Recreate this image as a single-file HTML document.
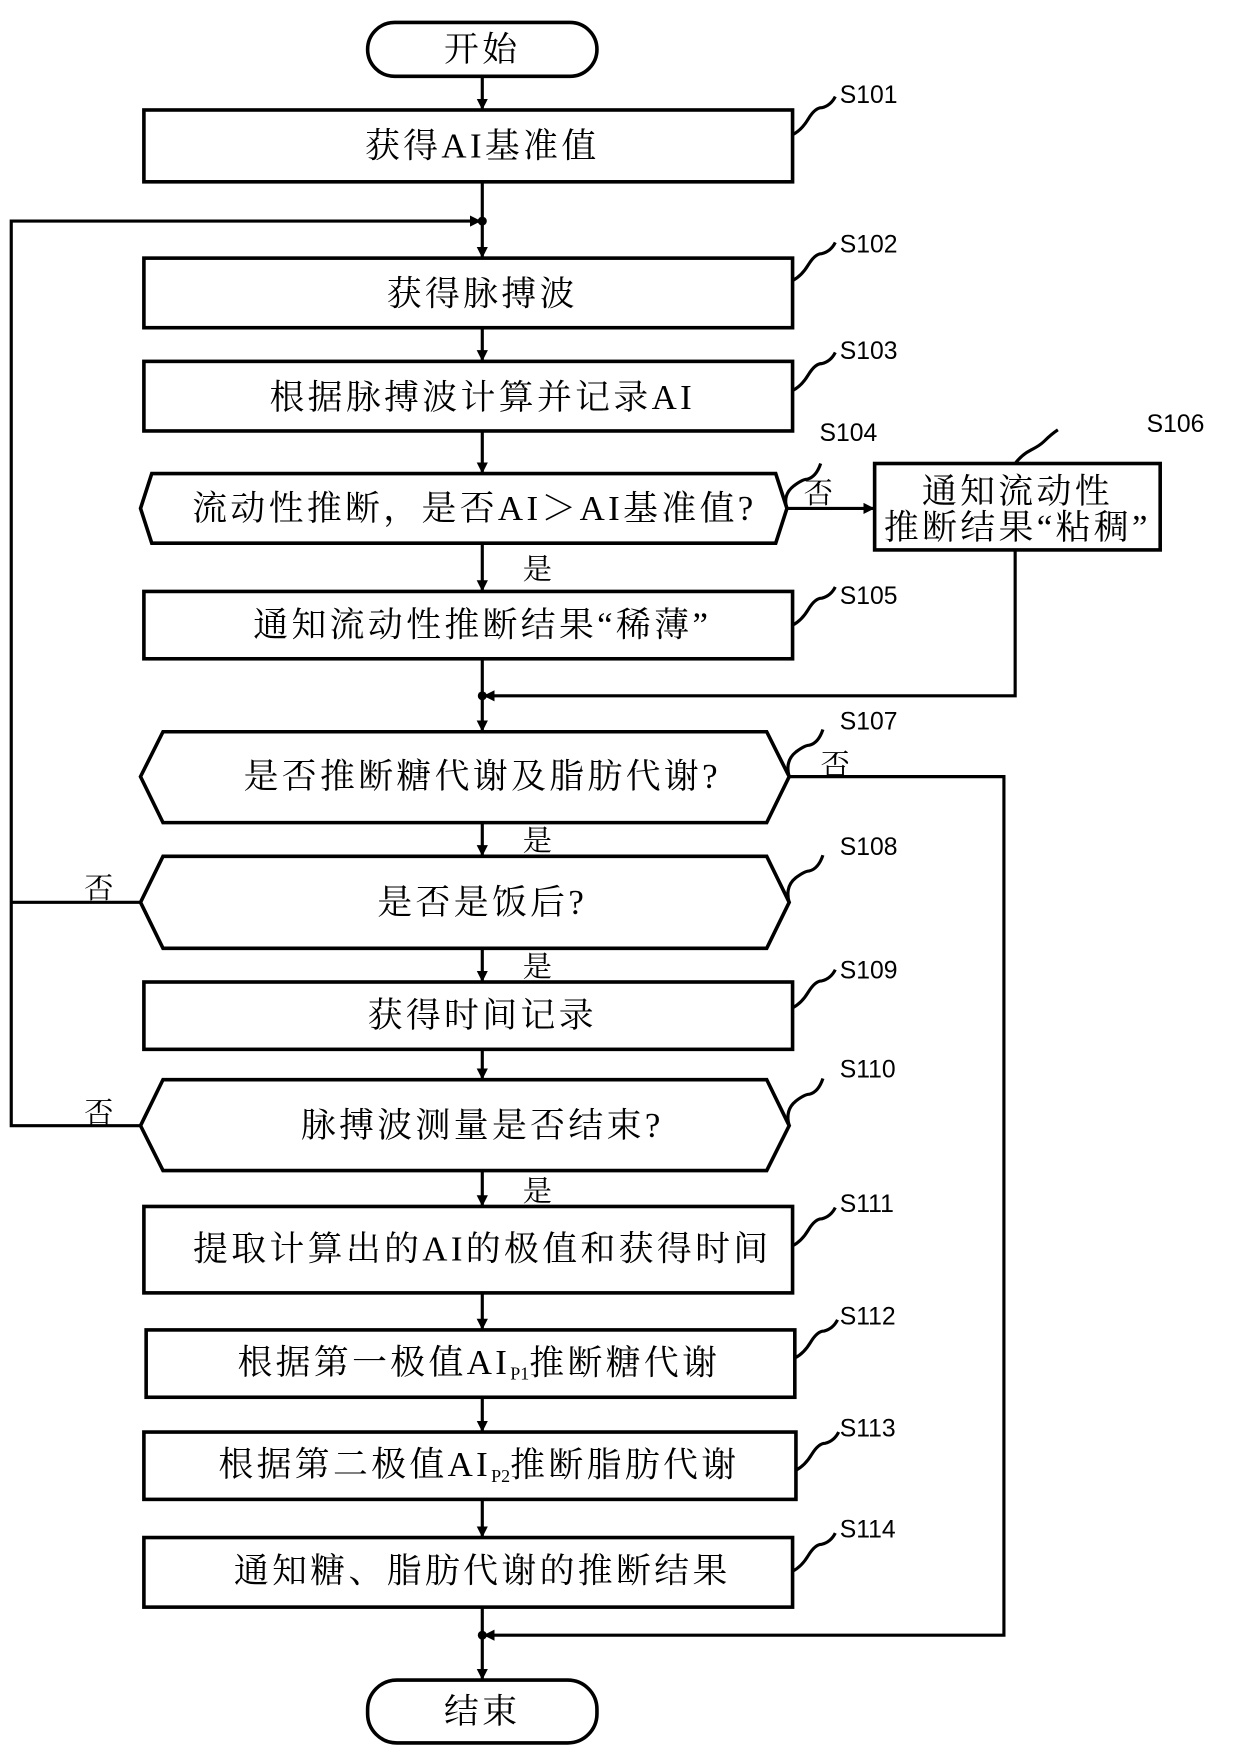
<!DOCTYPE html>
<html><head><meta charset="utf-8"><style>
html,body{margin:0;padding:0;background:#fff;}
svg{display:block;}
.t{font-family:"Liberation Serif","Noto Serif CJK SC",serif;font-size:31px;letter-spacing:3px;fill:#000;text-anchor:middle;dominant-baseline:central;}
.l{font-family:"Liberation Sans",sans-serif;font-size:22px;fill:#000;}
.y{font-family:"Liberation Serif","Noto Serif CJK SC",serif;font-size:26px;fill:#000;}
</style></head><body>
<svg width="1240" height="1762" viewBox="0 0 1103 1570" preserveAspectRatio="none" xmlns="http://www.w3.org/2000/svg">
<defs><marker id="a" markerWidth="10" markerHeight="10" refX="9" refY="5" orient="auto" markerUnits="userSpaceOnUse"><path d="M0,0 L10,5 L0,10 Z" fill="#000"/></marker></defs>
<g stroke="#000" stroke-width="3.2" fill="none">
<rect x="327" y="20" width="204" height="48" rx="24"/>
<rect x="128" y="98" width="577" height="64"/>
<rect x="128" y="230" width="577" height="62"/>
<rect x="128" y="322" width="577" height="62"/>
<polygon points="135,422 690,422 700,453 690,484 135,484 125,453"/>
<rect x="778" y="413" width="254" height="77"/>
<rect x="128" y="527" width="577" height="60"/>
<polygon points="145,652 682,652 702,692 682,733 145,733 125,692"/>
<polygon points="145,763 682,763 702,804 682,845 145,845 125,804"/>
<rect x="128" y="875" width="577" height="60"/>
<polygon points="145,962 682,962 702,1003 682,1043 145,1043 125,1003"/>
<rect x="128" y="1075" width="577" height="77"/>
<rect x="130" y="1185" width="577" height="60"/>
<rect x="128" y="1276" width="580" height="60"/>
<rect x="128" y="1370" width="577" height="62"/>
<rect x="327" y="1497" width="204" height="56" rx="26"/>
</g>
<g stroke="#000" stroke-width="2.8" fill="none">
<line x1="429" y1="68" x2="429" y2="97" marker-end="url(#a)"/>
<line x1="429" y1="162" x2="429" y2="229" marker-end="url(#a)"/>
<line x1="429" y1="292" x2="429" y2="321" marker-end="url(#a)"/>
<line x1="429" y1="384" x2="429" y2="421" marker-end="url(#a)"/>
<line x1="429" y1="484" x2="429" y2="526" marker-end="url(#a)"/>
<line x1="429" y1="587" x2="429" y2="651" marker-end="url(#a)"/>
<line x1="429" y1="733" x2="429" y2="762" marker-end="url(#a)"/>
<line x1="429" y1="845" x2="429" y2="874" marker-end="url(#a)"/>
<line x1="429" y1="935" x2="429" y2="961" marker-end="url(#a)"/>
<line x1="429" y1="1043" x2="429" y2="1074" marker-end="url(#a)"/>
<line x1="429" y1="1152" x2="429" y2="1184" marker-end="url(#a)"/>
<line x1="429" y1="1245" x2="429" y2="1275" marker-end="url(#a)"/>
<line x1="429" y1="1336" x2="429" y2="1369" marker-end="url(#a)"/>
<line x1="429" y1="1432" x2="429" y2="1496" marker-end="url(#a)"/>
<line x1="700" y1="453" x2="777" y2="453" marker-end="url(#a)"/>
<polyline points="903,490 903,620 431,620" marker-end="url(#a)"/>
<polyline points="702,692 893,692 893,1457 431,1457" marker-end="url(#a)"/>
<polyline points="125,804 10,804"/>
<polyline points="125,1003 10,1003 10,197 427,197" marker-end="url(#a)"/>
<path d="M705,120 q8,-4 14,-14 q6,-10 12,-10 q8,-2 12,-10"/>
<path d="M705,250 q8,-4 14,-14 q6,-10 12,-10 q8,-2 12,-10"/>
<path d="M705,348 q8,-4 14,-14 q6,-10 12,-10 q8,-2 12,-10"/>
<path d="M700,453 q-4,-12 6,-20 q8,-6 12,-6 q8,-2 12,-14"/>
<path d="M903,413 q6,-8 14,-12 q8,-4 12,-8 q6,-6 12,-10"/>
<path d="M705,557 q8,-4 14,-14 q6,-10 12,-10 q8,-2 12,-10"/>
<path d="M702,692 q-4,-14 6,-22 q8,-6 12,-6 q8,-2 12,-14"/>
<path d="M702,804 q-4,-14 6,-22 q8,-6 12,-6 q8,-2 12,-14"/>
<path d="M705,898 q8,-4 14,-14 q6,-10 12,-10 q8,-2 12,-10"/>
<path d="M702,1003 q-4,-14 6,-22 q8,-6 12,-6 q8,-2 12,-14"/>
<path d="M705,1110 q8,-4 14,-14 q6,-10 12,-10 q8,-2 12,-10"/>
<path d="M707,1210 q8,-4 14,-14 q6,-10 12,-10 q8,-2 12,-10"/>
<path d="M708,1310 q8,-4 14,-14 q6,-10 12,-10 q8,-2 12,-10"/>
<path d="M705,1400 q8,-4 14,-14 q6,-10 12,-10 q8,-2 12,-10"/>
</g>
<g fill="#000"><circle cx="429" cy="197" r="4"/><circle cx="429" cy="620" r="4"/><circle cx="429" cy="1457" r="4"/></g>
<text class="t" x="429" y="44">开始</text>
<text class="t" x="429" y="130">获得AI基准值</text>
<text class="t" x="429" y="262">获得脉搏波</text>
<text class="t" x="429" y="354">根据脉搏波计算并记录AI</text>
<text class="t" x="422" y="453">流动性推断，是否AI＞AI基准值?</text>
<text class="t" x="905" y="438">通知流动性</text>
<text class="t" x="905" y="470">推断结果“粘稠”</text>
<text class="t" x="429" y="557">通知流动性推断结果“稀薄”</text>
<text class="t" x="429" y="692">是否推断糖代谢及脂肪代谢?</text>
<text class="t" x="429" y="804">是否是饭后?</text>
<text class="t" x="429" y="905">获得时间记录</text>
<text class="t" x="429" y="1003">脉搏波测量是否结束?</text>
<text class="t" x="429" y="1113">提取计算出的AI的极值和获得时间</text>
<text class="t" x="426" y="1214">根据第一极值AI<tspan font-size="16" letter-spacing="0" dy="10">P1</tspan><tspan dy="-10">推断糖代谢</tspan></text>
<text class="t" x="426" y="1305">根据第二极值AI<tspan font-size="16" letter-spacing="0" dy="10">P2</tspan><tspan dy="-10">推断脂肪代谢</tspan></text>
<text class="t" x="429" y="1400">通知糖、脂肪代谢的推断结果</text>
<text class="t" x="429" y="1525">结束</text>
<text class="l" x="747" y="92">S101</text>
<text class="l" x="747" y="225">S102</text>
<text class="l" x="747" y="320">S103</text>
<text class="l" x="729" y="393">S104</text>
<text class="l" x="1020" y="385">S106</text>
<text class="l" x="747" y="538">S105</text>
<text class="l" x="747" y="650">S107</text>
<text class="l" x="747" y="762">S108</text>
<text class="l" x="747" y="872">S109</text>
<text class="l" x="747" y="960">S110</text>
<text class="l" x="747" y="1080">S111</text>
<text class="l" x="747" y="1180">S112</text>
<text class="l" x="747" y="1280">S113</text>
<text class="l" x="747" y="1370">S114</text>
<text class="y" x="715" y="448">否</text>
<text class="y" x="465" y="516">是</text>
<text class="y" x="730" y="690">否</text>
<text class="y" x="465" y="758">是</text>
<text class="y" x="75" y="800">否</text>
<text class="y" x="465" y="870">是</text>
<text class="y" x="75" y="1000">否</text>
<text class="y" x="465" y="1070">是</text>
</svg>
</body></html>
